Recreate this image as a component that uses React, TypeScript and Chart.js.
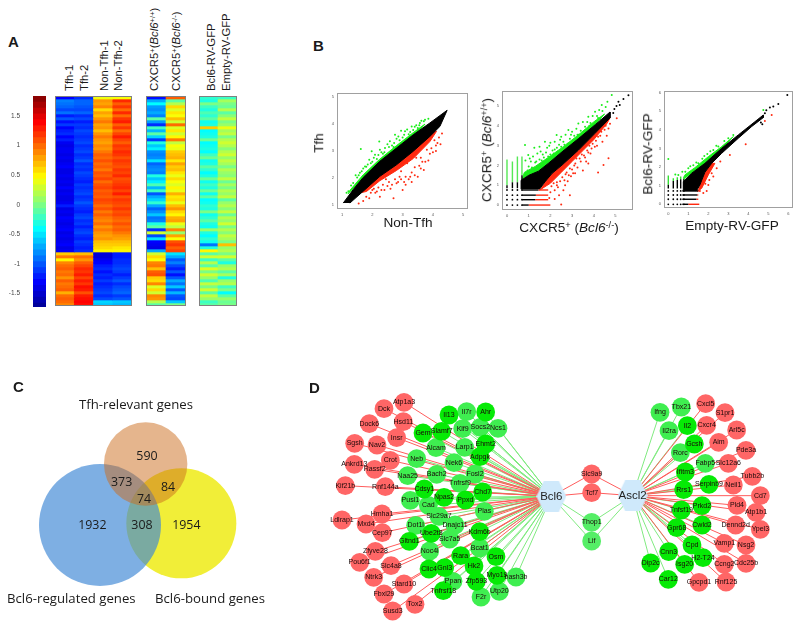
import React, { useEffect, useRef } from "react";
import { Chart, registerables } from "chart.js";

Chart.register(...registerables);
Chart.defaults.font.family = "'Liberation Sans', Arial, sans-serif";

// ---------- Panel A: heat-map values (rows top to bottom) ----------
const tfh1 = [-1.3,-0.85,-0.9,-0.95,-1.05,-0.9,-1.2,-1.0,-1.25,-1.1,-1.3,-1.2,-1.15,-1.3,-1.2,-1.35,-1.4,-1.35,-1.35,-1.4,-1.35,-1.4,-1.35,-1.3,-1.4,-1.4,-1.35,-1.4,-1.35,-1.4,-1.3,-1.4,-1.35,-1.4,-1.4,-1.35,-1.2,-1.4,-1.35,-1.4,-1.3,-1.35,-1.4,-1.35,-1.3,-1.4,-1.35,-1.4,-1.35,-1.3,-1.4,-1.35,0.65,0.95,0.5,0.9,1.0,1.05,0.95,1.0,0.85,1.05,0.95,1.0,1.05,0.75,1.0,1.05,1.0,0.9];
const tfh2 = [-1.15,-0.95,-0.95,-1.0,-1.05,-0.95,-1.15,-1.05,-1.2,-1.1,-1.15,-1.05,-1.1,-1.15,-1.1,-1.05,-1.15,-1.1,-1.05,-1.15,-1.1,-1.0,-1.15,-1.1,-1.15,-1.05,-1.1,-1.15,-1.2,-1.1,-1.15,-1.1,-1.05,-1.15,-1.1,-1.0,-1.1,-1.15,-1.2,-1.1,-1.05,-1.15,-1.1,-1.2,-1.1,-1.05,-1.15,-1.2,-1.1,-1.15,-1.2,-1.15,0.7,1.0,0.85,1.05,1.15,1.25,1.2,1.3,1.15,1.3,1.2,1.35,1.3,1.1,1.3,1.35,1.4,1.35];
const nonTfh1 = [0.42,0.85,0.8,0.9,0.6,0.8,0.7,0.85,0.95,0.8,0.85,0.7,0.85,0.95,0.85,0.8,0.9,0.85,0.95,1.05,1.0,1.1,1.0,1.05,0.95,1.1,1.05,1.15,1.0,1.1,1.15,1.05,1.1,1.05,1.15,1.1,1.0,1.1,0.95,1.05,0.95,0.9,1.0,0.85,0.95,0.85,0.8,0.85,0.7,0.65,0.6,0.5,-1.45,-1.45,-1.35,-1.3,-1.2,-1.15,-1.25,-1.15,-1.2,-1.1,-1.2,-1.15,-1.1,-1.05,-1.15,-1.05,-0.55,-0.6];
const nonTfh2 = [0.45,1.25,1.05,1.2,1.0,1.25,1.0,1.2,1.3,1.05,1.2,1.0,1.15,1.3,1.15,1.05,1.2,1.15,1.25,1.2,1.1,1.2,1.15,1.1,1.2,1.15,1.25,1.1,1.15,1.2,1.25,1.15,1.3,1.1,1.2,1.15,1.1,1.2,1.1,1.15,1.05,1.0,1.1,1.0,1.05,0.95,0.85,0.8,0.7,0.65,0.55,0.5,-1.2,-1.2,-1.15,-1.15,-1.1,-1.05,-1.1,-1.2,-1.1,-1.0,-1.15,-1.05,-1.0,-0.95,-1.1,-1.0,-0.6,-0.65];
const cxcrWt = [-1.25,-0.7,-0.4,-0.75,-0.8,-0.7,-0.85,-0.1,-0.75,-1.15,-0.2,-0.65,-0.1,-0.55,-1.1,-0.3,-0.6,-0.45,-0.8,-0.85,-0.8,-0.5,-0.95,-0.85,-0.8,-0.85,-0.3,-0.6,-0.45,-0.15,-0.65,-0.2,-1.0,-0.7,-0.55,-0.25,-0.7,-0.95,-0.8,-0.6,-0.9,-0.85,-0.3,-0.1,-1.15,0.3,-1.05,-0.5,-1.3,-1.35,-1.4,-0.7,0.3,0.6,0.45,0.9,0.95,0.7,1.05,1.1,0.65,0.6,0.9,0.35,0.6,0.3,0.9,0.85,0.2,-0.1];
const cxcrKo = [1.05,-0.1,0.2,0.6,0.35,0.55,0.45,0.7,0.3,1.0,0.35,0.55,0.3,0.5,0.95,0.25,0.45,0.4,0.65,0.7,0.75,0.55,0.8,0.65,0.7,0.55,0.4,0.6,0.45,0.35,0.5,0.4,0.75,0.55,0.6,0.4,0.7,0.85,0.6,0.5,0.75,0.8,0.4,0.25,0.9,0.1,0.8,0.45,1.1,1.2,1.05,1.15,-0.5,-0.7,-1.0,-0.85,-1.05,-1.2,-1.0,-1.25,-1.0,-0.7,-0.9,-0.6,-1.0,-0.65,-1.0,-1.05,-0.6,0.0];
const bcl6Rv = [-0.25,-0.3,0.0,-0.2,-0.3,-0.15,-0.25,-0.1,-0.35,-0.3,0.65,-0.4,-0.35,-0.3,-0.05,-0.4,-0.35,-0.3,-0.4,-0.2,-0.05,-0.35,-0.3,-0.1,-0.25,-0.4,-0.3,-0.05,-0.35,-0.2,-0.3,-0.05,-0.35,-0.1,-0.4,-0.35,-0.25,-0.3,0.0,-0.35,-0.25,-0.1,-0.3,-0.35,0.1,-0.3,-0.4,-0.25,-0.35,-0.9,-0.3,0.5,-0.1,0.3,-0.2,0.2,-0.1,0.35,0.0,0.3,0.1,-0.15,0.25,0.0,0.3,-0.1,0.25,0.1,-0.2,-0.1];
const emptyRv = [-0.2,0.15,0.0,-0.05,0.2,-0.1,0.05,0.25,0.0,0.1,0.4,0.15,0.25,0.0,0.2,0.3,0.2,0.05,0.2,0.3,0.1,0.25,0.15,0.0,0.2,0.1,0.05,0.25,-0.05,0.15,0.0,0.2,0.1,0.25,-0.1,0.1,0.2,0.05,0.25,-0.05,0.2,0.1,0.3,0.0,0.2,0.05,0.25,0.15,0.0,0.7,0.1,0.2,0.0,0.3,-0.1,-0.3,0.1,0.2,-0.1,0.15,-0.3,0.1,0.2,-0.2,0.0,-0.4,-0.1,0.1,-0.05,0.0];
const colorLevels = [1.8,1.7,1.6,1.5,1.4,1.3,1.2,1.1,1.0,0.9,0.8,0.7,0.6,0.5,0.4,0.3,0.2,0.1,0,-0.1,-0.2,-0.3,-0.4,-0.5,-0.6,-0.7,-0.8,-0.9,-1.0,-1.1,-1.2,-1.3,-1.4,-1.5,-1.6,-1.7];
const jetStops: [number, number, number, number][] = [[-1.75,0,0,143],[-1.3,0,0,255],[-0.85,0,128,255],[-0.4,0,255,255],[0.02,128,255,128],[0.47,255,255,0],[0.92,255,128,0],[1.4,255,0,0],[1.84,128,0,0]];

// ---------- Panel B: scatter shapes and points ----------
type P = [number, number];
const tfhBlack: P[] = [[1.04,1.07],[1.37,1.57],[1.7,2.02],[2.25,2.62],[2.8,3.11],[3.35,3.6],[3.9,4.04],[4.47,4.51],[4.23,3.91],[3.9,3.54],[3.35,2.99],[2.8,2.49],[2.25,2.06],[1.7,1.51],[1.26,1.07]];
const tfhGreenBand: P[] = [[1.2,1.4],[1.26,1.54],[1.7,2.12],[2.25,2.7],[2.8,3.2],[3.35,3.68],[3.74,4.0],[3.35,3.5],[2.25,2.5],[1.7,1.95]];
const tfhRedBand: P[] = [[1.6,1.45],[1.81,1.5],[2.25,1.9],[2.8,2.28],[3.35,2.72],[3.9,3.35],[4.12,3.73],[3.9,3.65],[3.35,3.1],[2.25,2.15]];
const tfhGreen: P[] = [[1.62,3.07],[2.23,3.35],[1.98,2.99],[2.09,2.86],[1.9,2.68],[1.76,2.43],[1.59,2.19],[1.37,1.81],[1.21,1.51],[2.58,3.36],[2.86,3.54],[3.08,3.73],[3.3,3.91],[3.57,4.04],[3.74,4.16],[2.42,3.11],[2.25,3.05],[2.72,3.3],[2.95,3.75],[3.2,3.62],[3.45,3.95],[3.62,4.12],[2.35,2.9],[2.05,2.75],[1.85,2.5],[1.7,2.35],[1.5,2.02],[1.3,1.72],[2.15,2.7],[2.5,3.25],[2.65,3.2],[2.8,3.45],[3.0,3.5],[3.15,3.8],[3.35,3.78],[3.5,3.85],[1.45,2.1],[1.15,1.45],[2.75,3.6],[3.85,4.2],[1.55,2.1],[1.65,2.25],[1.8,2.42],[1.95,2.55],[2.0,2.6],[2.2,2.85],[2.3,2.95],[2.4,2.95],[2.55,3.15],[2.7,3.15],[2.9,3.4],[3.05,3.6],[3.25,3.7],[3.4,3.9],[3.55,3.95],[3.7,4.1]];
const tfhRed: P[] = [[1.55,1.05],[1.7,1.15],[1.9,1.25],[2.1,1.45],[2.25,1.3],[2.4,1.55],[2.6,1.6],[2.7,1.25],[2.85,1.85],[3.0,1.55],[3.05,1.85],[3.2,1.95],[3.3,1.85],[3.5,2.05],[3.55,2.45],[3.65,2.6],[3.7,2.3],[3.85,2.65],[3.9,2.9],[4.0,2.95],[4.1,3.0],[4.15,3.3],[4.2,3.5],[4.3,3.65],[4.25,3.25],[3.4,2.4],[3.3,2.2],[3.1,2.05],[2.9,2.05],[2.75,1.95],[2.55,1.85],[2.35,1.75],[2.2,1.65],[2.0,1.55],[1.8,1.3],[2.45,1.95],[3.6,2.75],[3.8,3.05],[4.05,3.4],[3.45,2.75],[2.95,2.25],[3.15,2.55],[1.95,1.45],[2.05,1.6],[2.15,1.5],[2.3,1.55],[2.5,1.7],[2.65,1.75],[2.8,1.8],[2.95,1.95],[3.1,1.75],[3.25,2.05],[3.4,2.1],[3.6,2.35],[3.75,2.6],[3.95,3.1],[4.1,3.2]];

const cxBlack: P[] = [[0.65,0.8],[0.65,1.25],[1.0,1.5],[1.45,1.71],[1.9,2.1],[2.54,2.69],[3.31,3.37],[4.08,4.07],[4.75,4.7],[4.75,4.4],[4.06,3.62],[3.3,2.78],[2.54,2.02],[2.08,1.6],[1.75,1.17],[1.5,0.8]];
const cxGreenBand: P[] = [[0.7,1.3],[0.8,1.65],[1.3,1.95],[1.9,2.4],[2.6,2.95],[3.3,3.55],[4.0,4.2],[4.5,4.6],[4.08,4.07],[3.31,3.37],[2.54,2.69],[1.9,2.1],[1.45,1.71],[1.0,1.5]];
const cxRedBand: P[] = [[1.5,0.75],[2.0,1.1],[2.5,1.65],[3.0,2.2],[3.5,2.75],[4.0,3.3],[4.6,4.1],[4.75,4.4],[4.06,3.62],[3.3,2.78],[2.54,2.02],[2.08,1.6],[1.75,1.17]];
const cxGreen: P[] = [[4.83,5.56],[4.63,5.22],[4.37,5.05],[4.06,4.71],[3.75,4.46],[3.29,4.12],[2.83,3.79],[2.29,3.54],[1.75,3.2],[1.26,2.9],[0.83,3.03],[0.98,2.53],[1.1,2.2],[1.4,2.6],[1.5,2.95],[1.65,2.55],[1.85,2.9],[2.0,3.15],[2.1,2.75],[2.2,3.2],[2.4,3.05],[2.5,3.45],[2.6,3.2],[2.7,3.55],[2.9,3.35],[3.0,3.7],[3.1,3.5],[3.2,3.85],[3.4,3.75],[3.5,4.2],[3.6,3.95],[3.7,4.2],[3.85,4.15],[3.95,4.5],[4.15,4.5],[4.25,4.8],[4.4,4.75],[4.55,4.95],[1.2,2.45],[0.85,2.25],[1.0,1.95],[1.9,2.45],[2.3,2.9],[2.8,3.1],[3.3,3.55],[3.8,4.0],[4.2,4.4],[1.6,2.25],[1.35,2.2],[2.15,2.6],[0.95,1.75],[1.15,1.9],[1.3,2.15],[1.5,2.3],[1.7,2.4],[1.8,2.65],[2.0,2.55],[2.2,2.8],[2.35,2.7],[2.5,2.95],[2.65,3.05],[2.75,2.95],[3.0,3.2],[3.15,3.25],[3.25,3.55],[3.45,3.4],[3.55,3.7],[3.75,3.75],[3.95,4.05],[4.1,4.25],[4.3,4.35],[1.05,2.35],[1.55,2.7],[1.95,3.0],[2.45,3.3],[2.95,3.55]];
const cxRed: P[] = [[5.06,4.38],[4.68,3.87],[4.68,2.36],[4.45,2.02],[4.2,1.65],[3.75,2.1],[2.9,0.5],[2.5,0.03],[3.14,1.6],[2.68,1.0],[2.4,0.5],[2.2,0.75],[2.45,1.2],[2.6,0.75],[2.8,1.2],[2.95,1.45],[3.1,2.0],[3.25,1.9],[3.4,2.2],[3.5,1.75],[3.6,2.4],[3.7,2.75],[3.85,2.6],[3.95,3.1],[4.05,2.95],[4.15,3.0],[4.3,3.5],[4.4,3.2],[4.5,3.8],[4.6,3.5],[4.75,4.1],[2.2,0.3],[2.3,1.15],[2.7,1.55],[2.9,1.85],[3.2,2.35],[3.45,2.55],[3.8,3.0],[4.2,3.45],[2.05,0.95],[2.15,1.1],[2.35,0.9],[2.55,1.4],[2.65,1.25],[2.75,1.65],[3.0,1.8],[3.05,1.6],[3.15,2.1],[3.35,2.35],[3.55,2.5],[3.65,2.2],[3.75,2.65],[3.9,2.85],[4.1,3.25],[4.35,3.7],[4.55,4.0],[2.0,0.65],[1.95,0.35],[2.3,1.0],[2.85,1.5]];
const cxExtraBlack: P[] = [[5.14,5.22],[5.37,5.35],[5.6,5.55],[5.05,5.0],[4.95,4.85],[5.2,5.05],[4.9,4.65]];
const cxStripeX = [0, 0.25, 0.48, 0.69];
const cxStripeGreenTop = [2.3, 2.2, 2.45, 2.45];
const cxStripeGreenBottom = [1.0, 1.15, 1.15, 1.5];
const cxStripeBlackBottom = [0.85, 0.85, 0.85, 0.85];
const cxRowY = [0, 0.27, 0.5, 0.76];
const cxRowBlackEnd = [1.0, 1.3, 1.33, 1.45];
const cxRowRedEnd = [2.0, 1.9, 1.9, 1.9];

const rvBlack: P[] = [[0.75,0.7],[0.75,1.22],[1.17,1.67],[1.83,2.2],[2.67,3.01],[3.5,3.73],[4.33,4.44],[4.75,4.8],[4.75,4.66],[4.17,4.18],[3.5,3.55],[2.67,2.74],[2.17,2.2],[1.83,1.72],[1.58,1.04],[1.4,0.7]];
const rvGreenBand: P[] = [[0.75,1.3],[0.83,1.58],[1.33,1.97],[2.0,2.56],[2.67,3.1],[3.25,3.64],[2.67,3.0],[1.83,2.2],[1.17,1.67]];
const rvRedBand: P[] = [[1.45,0.68],[1.67,0.86],[2.0,1.58],[2.33,2.2],[2.17,2.2],[1.83,1.72],[1.58,1.04]];
const rvGreen: P[] = [[0,2.44],[0.35,1.6],[0.5,1.58],[0.7,1.75],[1.0,1.94],[1.25,2.1],[1.5,2.2],[1.7,2.45],[1.95,2.7],[2.25,2.92],[2.5,3.1],[2.8,3.4],[3.25,3.73],[0.85,1.75],[1.1,2.05],[1.4,2.25],[1.8,2.6],[2.1,2.85],[2.4,3.15],[3.0,3.55],[4.75,5.07]];
const rvRed: P[] = [[5.17,4.8],[4.83,4.48],[3.87,3.23],[3.08,2.65],[2.42,1.94],[2.17,1.67],[2.0,1.04],[1.92,0.72],[1.58,0.72],[2.25,1.5],[1.85,1.1],[2.6,2.3],[1.75,0.6],[2.05,1.3]];
const rvExtraBlack: P[] = [[5.95,5.88],[5.5,5.39],[5.25,5.25],[5.08,5.2],[4.83,4.9],[4.63,4.4],[4.7,4.3],[4.9,5.05]];
const rvStripeX = [0, 0.25, 0.45, 0.62, 0.78];
const rvStripeGreenTop = [1.55, 1.4, 1.45, 1.5, 1.5];
const rvStripeGreenBottom = [1.05, 1.25, 1.3, 1.35, 1.35];
const rvStripeBlackBottom = [0.85, 0.85, 0.85, 0.85, 0.85];
const rvRowY = [0, 0.27, 0.5, 0.72];
const rvRowBlackEnd = [1.0, 1.4, 1.45, 1.5];
const rvRowRedEnd = [1.55, 1.5, 1.5, 1.55];

// ---------- Panel C: Venn layout ----------
const vennOrange = { x: 437, y: 282, r: 41.7 };
const vennBlue = { x: 300, y: 465, r: 61 };
const vennYellow = { x: 544, y: 460, r: 55 };
const vennCounts: [string, number, number][] = [["590",441,258],["373",365,338],["84",504,352],["74",432,387],["1932",277,467],["308",426,467],["1954",559,467]];
const vennNames: [string, number, number][] = [["Tfh-relevant genes",408,105],["Bcl6-regulated genes",214,687],["Bcl6-bound genes",630,687]];

// ---------- Panel D: network layout ----------
type N = [string, number, number];
const leftRed: N[] = [["Atp1a3",282,67],["Dck",222,86],["Hsd11",280,125],["Dock6",178,131],["Insr",260,173],["Sgsh",134,190],["Nav2",201,195],["Crot",241,241],["Ankrd13",133,253],["Rassf2",194,268],["Kif21b",106,317],["Rnf144a",226,320],["Ldlrap1",96,420],["Mxd4",168,432],["Hmha1",216,402],["Cep97",217,458],["Zfyve28",196,514],["Slc4a8",243,557],["Pou6f1",149,547],["Ntrk3",191,592],["Stard10",282,612],["Fbxl29",222,642],["Tox2",315,673],["Susd3",248,693]];
const leftGreen: N[] = [["Il13",417,105],["Ahr",527,96],["Gem",339,159],["Slamf7",395,154],["Ehmt2",527,192],["Adpgk",510,230],["Chd7",518,336],["Cdsy1",343,327],["Npas2",402,352],["Ppxd",466,360],["Ube2t8",364,460],["Kdm6b",509,455],["Gltnd1",298,484],["Rara",452,527],["Osm",558,530],["Clic4",357,567],["Gnl3",404,563],["Hk2",492,558],["Zfp593",499,604],["Myo19",561,586],["Tnfrsf18",400,632]];
const leftLight: N[] = [["Il7r",470,95],["Klf9",458,146],["Socs2",511,142],["Ncs1",564,145],["Larp1",464,202],["Alcam",378,203],["Neb",320,236],["Naa25",293,287],["Nek6",432,248],["Bach2",380,283],["Tnfrsf9",450,310],["Fosl2",495,282],["Pusl1",301,361],["Cad",355,376],["Plas",523,394],["Slc29a7",387,409],["Dot1l",317,436],["Dnajc11",435,435],["Slc7a5",419,477],["Noc4l",359,513],["Bcat1",509,504],["Ppan",429,604],["bash3b",618,591],["F2r",513,651],["Utp20",568,634]];
const rightGreen: N[] = [["Il2",1132,137],["Gcsh",1153,192],["Ifitm3",1126,276],["Rrs1",1121,329],["Serpinb9",1197,313],["Prkd2",1176,377],["Tnfsf19",1114,390],["Gpr68",1100,443],["Cwld2",1176,435],["Cpd",1146,495],["H2-T24",1179,533],["Cnn3",1076,515],["Isg20",1124,553],["Dip2c",1022,549],["Car12",1075,598]];
const rightLight: N[] = [["Ifng",1050,97],["Tbx21",1114,81],["Il2ra",1077,152],["Rorc",1111,218],["Fabp5",1186,250]];
const rightRed: N[] = [["Cxcl5",1187,71],["S1pr1",1245,98],["Cxcr4",1190,136],["Arl5c",1280,150],["Aim",1226,187],["Pde3a",1308,211],["Slc12a6",1255,250],["Tubb2b",1327,289],["Neil1",1270,315],["Cd7",1351,347],["Pld4",1281,376],["Atp1b1",1338,397],["Dennd2d",1277,435],["Ypel3",1351,448],["Nsg2",1308,495],["Vamp1",1243,490],["Cdc25b",1308,550],["Ccng2",1243,553],["Rnf125",1248,606],["Gpcpd1",1167,607]];
const middleRed: N[] = [["Slc9a9",845,282],["Tcf7",845,338]];
const middleLight: N[] = [["Thop1",845,427],["Lif",845,483]];
const hubs: N[] = [["Bcl6",724,349],["Ascl2",968,347]];

// ---------- helpers ----------
function heat(v: number) {
  for (let i = 1; i < jetStops.length; i++) {
    const a = jetStops[i - 1], b = jetStops[i];
    if (v <= b[0]) {
      const t = Math.max(0, (v - a[0]) / (b[0] - a[0]));
      return `rgb(${[1, 2, 3].map((k) => Math.round(a[k] + (b[k] - a[k]) * t)).join(",")})`;
    }
  }
  return "rgb(128,0,0)";
}

const framePlugin = {
  id: "frame",
  afterDraw(chart: any, _a: any, opts: any) {
    if (!opts || !opts.color) return;
    const { left, top, right, bottom } = chart.chartArea;
    const c = chart.ctx;
    c.save();
    c.strokeStyle = opts.color;
    c.lineWidth = 1;
    c.strokeRect(left + 0.5, top + 0.5, right - left - 1, bottom - top - 1);
    c.restore();
  },
};

const labelPlugin = {
  id: "pointLabels",
  afterDatasetsDraw(chart: any) {
    const c = chart.ctx;
    chart.data.datasets.forEach((ds: any, i: number) => {
      if (!ds.pointLabels) return;
      const meta = chart.getDatasetMeta(i);
      c.save();
      c.font = ds.labelFont;
      c.fillStyle = ds.labelColor;
      c.textAlign = "center";
      c.textBaseline = "middle";
      ds.pointLabels.forEach((t: string, k: number) => c.fillText(t, meta.data[k].x, meta.data[k].y));
      c.restore();
    });
  },
};

type Box = { left: number; top: number; width: number; height: number };

function ChartCanvas({ box, config, soft }: { box: Box; config: any; soft?: boolean }) {
  const ref = useRef<HTMLCanvasElement | null>(null);
  useEffect(() => {
    const chart = new Chart(ref.current as HTMLCanvasElement, config());
    return () => chart.destroy();
  }, []);
  return (
    <canvas
      ref={ref}
      width={box.width}
      height={box.height}
      style={{ position: "absolute", left: box.left, top: box.top, width: box.width, height: box.height, display: "block", filter: soft ? "blur(0.4px)" : undefined }}
    />
  );
}

const hiddenLegend = { legend: { display: false }, tooltip: { enabled: false } };
const noPadding = (s: any) => { s.paddingTop = 0; s.paddingBottom = 0; s.paddingLeft = 0; s.paddingRight = 0; };

function heatConfig(columns: number[][]) {
  return () => {
    const rows = columns[0].length;
    const datasets = columns[0].map((_, r) => ({
      data: columns.map(() => [r, r + 1]),
      backgroundColor: columns.map((c) => heat(c[r])),
      borderWidth: 0,
      grouped: false,
      barPercentage: 1,
      categoryPercentage: 1,
    }));
    return {
      type: "bar",
      data: { labels: columns.map((_, i) => String(i)), datasets },
      options: {
        animation: false,
        responsive: false,
        layout: { autoPadding: false },
        plugins: { ...hiddenLegend, frame: { color: "#808080" } },
        scales: {
          x: { display: false },
          y: { display: false, min: 0, max: rows, reverse: true },
        },
      },
      plugins: [framePlugin],
    };
  };
}

function colorBarConfig() {
  const left = 33;
  return {
    type: "bar",
    data: {
      labels: ["c"],
      datasets: colorLevels.map((v) => ({
        data: [[v - 0.052, v + 0.052]],
        backgroundColor: heat(v),
        borderWidth: 0,
        grouped: false,
        barPercentage: 1,
        categoryPercentage: 1,
      })),
    },
    options: {
      animation: false,
      responsive: false,
      layout: { padding: 0, autoPadding: false },
      plugins: { ...hiddenLegend },
      scales: {
        x: { display: false },
        y: {
          min: -1.73,
          max: 1.84,
          grid: { display: false },
          border: { display: false },
          afterFit: (s: any) => { s.width = left; noPadding(s); },
          ticks: {
            stepSize: 0.5,
            includeBounds: false,
            autoSkip: false,
            padding: 5,
            color: "#444",
            font: { size: 6.5 },
            callback: (v: number) => String(v),
          },
        },
      },
    },
  };
}

function poly(points: P[], color: string) {
  return {
    showLine: true,
    data: points.map(([x, y]) => ({ x, y })),
    fill: "shape",
    backgroundColor: color,
    borderColor: color,
    borderWidth: 1,
    pointRadius: 0,
  };
}
function dots(points: P[], color: string, r = 1) {
  return { data: points.map(([x, y]) => ({ x, y })), backgroundColor: color, pointRadius: r, pointBorderWidth: 0, showLine: false };
}
function seg(a: P, b: P, color: string, width = 1.4) {
  return { showLine: true, data: [a, b].map(([x, y]) => ({ x, y })), borderColor: color, borderWidth: width, pointRadius: 0, fill: false };
}
function stripes(xs: number[], hi: number[], lo: number[], color: string) {
  return xs.map((x, i) => seg([x, hi[i]], [x, lo[i]], color));
}
function rows(ys: number[], from: number[] | number, to: number[], color: string) {
  return ys.map((y, i) => seg([typeof from === "number" ? from : from[i], y], [to[i], y], color));
}

function scatterConfig(xr: P, yr: P, datasets: any[], ml: number, mb: number) {
  return () => ({
    type: "scatter",
    data: { datasets },
    options: {
      animation: false,
      responsive: false,
      layout: { padding: { top: 2, right: 2, left: 0, bottom: 0 }, autoPadding: false },
      plugins: { ...hiddenLegend, frame: { color: "#a0a0a0" } },
      scales: {
        x: {
          type: "linear", min: xr[0], max: xr[1],
          grid: { display: false, tickLength: 2, tickColor: "#999" },
          border: { display: false },
          afterFit: (s: any) => { s.height = mb; noPadding(s); },
          ticks: { stepSize: 1, includeBounds: false, autoSkip: false, maxRotation: 0, padding: 1, color: "#555", font: { size: 4 }, callback: (v: number) => String(v) },
        },
        y: {
          type: "linear", min: yr[0], max: yr[1],
          grid: { display: false, tickLength: 2, tickColor: "#999" },
          border: { display: false },
          afterFit: (s: any) => { s.width = ml; noPadding(s); },
          ticks: { stepSize: 1, includeBounds: false, autoSkip: false, padding: 1, color: "#555", font: { size: 4 }, callback: (v: number) => String(v) },
        },
      },
    },
    plugins: [framePlugin],
  });
}

const GREEN = "#1aee1a";
const RED = "#ff2a10";
const BLACK = "#000";

const plotTfh = scatterConfig([0.835, 5.158], [0.85, 5.15], [
  poly(tfhBlack, BLACK),
  dots(tfhGreen, GREEN),
  dots(tfhRed, RED),
  poly(tfhGreenBand, GREEN),
  poly(tfhRedBand, RED),
], 12, 10);

const plotCxcr = scatterConfig([-0.23, 5.81], [-0.25, 5.76], [
  poly(cxBlack, BLACK),
  dots(cxExtraBlack, BLACK),
  ...rows(cxRowY, 0.7, cxRowBlackEnd, BLACK),
  ...rows(cxRowY, cxRowBlackEnd, cxRowRedEnd, RED),
  ...stripes(cxStripeX, cxStripeBlackBottom, cxStripeGreenBottom, BLACK),
  ...stripes(cxStripeX, cxStripeGreenTop, cxStripeGreenBottom, "#55e855"),
  ...cxRowY.map((y) => dots(cxStripeX.map((x) => [x, y] as P), BLACK, 0.9)),
  dots(cxGreen, GREEN),
  dots(cxRed, RED),
  poly(cxGreenBand, GREEN),
  poly(cxRedBand, RED),
], 12, 10);

const plotRv = scatterConfig([-0.215, 6.235], [-0.2, 6.09], [
  poly(rvBlack, BLACK),
  dots(rvExtraBlack, BLACK),
  ...rows(rvRowY, 0.7, rvRowBlackEnd, BLACK),
  ...rows(rvRowY, rvRowBlackEnd, rvRowRedEnd, RED),
  ...stripes(rvStripeX, rvStripeGreenBottom, rvStripeBlackBottom, BLACK),
  ...stripes(rvStripeX, rvStripeGreenTop, rvStripeGreenBottom, "#33e033"),
  ...rvRowY.map((y) => dots(rvStripeX.map((x) => [x, y] as P), BLACK, 0.9)),
  dots(rvGreen, GREEN),
  dots(rvRed, RED),
  poly(rvGreenBand, GREEN),
  poly(rvRedBand, RED),
], 12, 10);

function hiddenXY(xMax: number, yMax: number) {
  return {
    x: { type: "linear", display: false, min: 0, max: xMax },
    y: { type: "linear", display: false, min: 0, max: yMax, reverse: true },
  };
}

function vennConfig() {
  const circle = (c: { x: number; y: number; r: number }, color: string) => ({
    data: [{ x: c.x, y: c.y }], backgroundColor: color, pointRadius: c.r, pointBorderWidth: 0, clip: false,
  });
  const text = (list: [string, number, number][], font: string) => ({
    data: list.map(([, x, y]) => ({ x, y })),
    pointRadius: 0,
    pointLabels: list.map(([t]) => t),
    labelFont: font,
    labelColor: "#1a1a1a",
  });
  return {
    type: "scatter",
    data: {
      datasets: [
        text(vennCounts, "12.4px 'Open Sans'"),
        text(vennNames, "13.2px 'Open Sans'"),
        circle(vennOrange, "rgba(203,107,27,0.5)"),
        circle(vennBlue, "rgba(62,136,213,0.67)"),
        circle(vennYellow, "#f1ee38"),
      ],
    },
    options: {
      animation: false,
      responsive: false,
      layout: { autoPadding: false },
      plugins: { ...hiddenLegend },
      scales: hiddenXY(870, 750),
    },
    plugins: [labelPlugin],
  };
}

function hexagonImage() {
  const c = document.createElement("canvas");
  c.width = 30;
  c.height = 31;
  const g = c.getContext("2d") as CanvasRenderingContext2D;
  g.fillStyle = "#cfe9fb";
  g.beginPath();
  g.moveTo(0, 15.5);
  g.lineTo(7.5, 0);
  g.lineTo(22.5, 0);
  g.lineTo(30, 15.5);
  g.lineTo(22.5, 31);
  g.lineTo(7.5, 31);
  g.closePath();
  g.fill();
  return c;
}

function networkConfig() {
  const edgeData = (nodes: N[], hubList: N[]) =>
    nodes.flatMap(([, x, y]) =>
      hubList.flatMap(([, hx, hy]) => [{ x: hx, y: hy }, { x, y }, { x: NaN, y: NaN }])
    );
  const edge = (data: any[], color: string) => ({ showLine: true, data, borderColor: color, borderWidth: 1, pointRadius: 0, fill: false, spanGaps: false });
  const nodes = (list: N[], color: string) => ({
    data: list.map(([, x, y]) => ({ x, y })),
    backgroundColor: color,
    pointRadius: 9.4,
    pointBorderWidth: 0,
    pointLabels: list.map(([t]) => t),
    labelFont: "7px 'Liberation Sans'",
    labelColor: "#1a0808",
  });
  const bcl6 = [hubs[0]];
  const ascl2 = [hubs[1]];
  return {
    type: "scatter",
    data: {
      datasets: [
        {
          data: hubs.map(([, x, y]) => ({ x, y })),
          pointStyle: hexagonImage(),
          pointRadius: 15,
          pointLabels: hubs.map(([t]) => t),
          labelFont: "11.5px 'Liberation Sans'",
          labelColor: "#222",
        },
        nodes(middleRed, "#ff6666"),
        nodes(middleLight, "#55ee66"),
        nodes(rightGreen, "#06ea06"),
        nodes(rightLight, "#3fee50"),
        nodes(leftGreen, "#06ea06"),
        nodes(leftLight, "#3fee50"),
        nodes(leftRed, "#ff6666"),
        nodes(rightRed, "#ff6666"),
        edge([...edgeData(leftRed, bcl6), ...edgeData(rightRed, ascl2), ...edgeData(middleRed, hubs)], "#ff5c5c"),
        edge([...edgeData(leftGreen, bcl6), ...edgeData(leftLight, bcl6), ...edgeData(rightGreen, ascl2), ...edgeData(rightLight, ascl2), ...edgeData(middleLight, hubs)], "#80ea80"),
      ],
    },
    options: {
      animation: false,
      responsive: false,
      layout: { autoPadding: false },
      plugins: { ...hiddenLegend },
      scales: hiddenXY(1470, 750),
    },
    plugins: [labelPlugin],
  };
}

type LabelProps = { x: number; y: number; size: number; rotate?: boolean; center?: boolean; bold?: boolean; children: React.ReactNode };
function Label({ x, y, size, rotate, center, bold, children }: LabelProps) {
  const parts = [`translate(${x}px, ${y}px)`];
  if (rotate) parts.push("rotate(-90deg)");
  parts.push(center ? "translate(-50%, -50%)" : "translate(0, -50%)");
  return (
    <div
      style={{
        position: "absolute", left: 0, top: 0, transformOrigin: "0 0", transform: parts.join(" "),
        whiteSpace: "nowrap", fontFamily: "'Liberation Sans', Arial, sans-serif", fontSize: size,
        fontWeight: bold ? 700 : 400, color: "#1a1a1a", lineHeight: 1,
      }}
    >
      {children}
    </div>
  );
}
const supStyle: React.CSSProperties = { fontSize: "0.68em", verticalAlign: "0.45em", lineHeight: 0 };

export default function App() {
  return (
    <div style={{ position: "absolute", left: 0, top: 0, width: 800, height: 630, background: "#fff", overflow: "hidden" }}>
      <ChartCanvas soft box={{ left: 0, top: 96, width: 46, height: 211 }} config={colorBarConfig} />
      <ChartCanvas soft box={{ left: 55, top: 96, width: 77, height: 210 }} config={heatConfig([tfh1, tfh2, nonTfh1, nonTfh2])} />
      <ChartCanvas soft box={{ left: 146, top: 96, width: 40, height: 210 }} config={heatConfig([cxcrWt, cxcrKo])} />
      <ChartCanvas soft box={{ left: 199, top: 96, width: 38, height: 210 }} config={heatConfig([bcl6Rv, emptyRv])} />

      <ChartCanvas soft box={{ left: 325, top: 91, width: 145, height: 128 }} config={plotTfh} />
      <ChartCanvas soft box={{ left: 490, top: 89, width: 145, height: 131 }} config={plotCxcr} />
      <ChartCanvas soft box={{ left: 652, top: 89, width: 143, height: 129 }} config={plotRv} />

      <ChartCanvas box={{ left: 0, top: 370, width: 290, height: 250 }} config={vennConfig} />
      <ChartCanvas box={{ left: 310, top: 380, width: 490, height: 250 }} config={networkConfig} />

      <Label x={8} y={41} size={15} bold>A</Label>
      <Label x={313} y={45} size={15} bold>B</Label>
      <Label x={13} y={386} size={15} bold>C</Label>
      <Label x={309} y={387} size={15} bold>D</Label>

      <Label x={70} y={91} size={11.3} rotate>Tfh-1</Label>
      <Label x={85} y={91} size={11.3} rotate>Tfh-2</Label>
      <Label x={105} y={91} size={11.3} rotate>Non-Tfh-1</Label>
      <Label x={119} y={91} size={11.3} rotate>Non-Tfh-2</Label>
      <Label x={155} y={91} size={11.3} rotate>CXCR5<sup style={supStyle}>+</sup>(<i>Bcl6</i><sup style={supStyle}>+/+</sup>)</Label>
      <Label x={177} y={91} size={11.3} rotate>CXCR5<sup style={supStyle}>+</sup>(<i>Bcl6</i><sup style={supStyle}>-/-</sup>)</Label>
      <Label x={212} y={91} size={11.3} rotate>Bcl6-RV-GFP</Label>
      <Label x={227} y={91} size={11.3} rotate>Empty-RV-GFP</Label>

      <Label x={319} y={143} size={13.6} rotate center>Tfh</Label>
      <Label x={408} y={223} size={13.6} center>Non-Tfh</Label>
      <Label x={487} y={150} size={13.6} rotate center>CXCR5<sup style={supStyle}>+</sup> (<i>Bcl6</i><sup style={supStyle}>+/+</sup>)</Label>
      <Label x={569} y={228} size={13.6} center>CXCR5<sup style={supStyle}>+</sup> (<i>Bcl6</i><sup style={supStyle}>-/-</sup>)</Label>
      <Label x={648} y={154} size={13.6} rotate center>Bcl6-RV-GFP</Label>
      <Label x={732} y={226} size={13.6} center>Empty-RV-GFP</Label>
    </div>
  );
}
